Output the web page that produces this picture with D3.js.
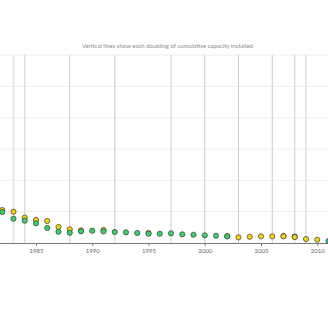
<!DOCTYPE html>
<html>
<head>
<meta charset="utf-8">
<script src="https://cdn.jsdelivr.net/npm/d3@7"></script>
<style>
  body { margin: 0; background: #fff; }
  svg { display: block; font-family: Lato, "Noto Sans", sans-serif; }
</style>
</head>
<body>
<div id="chart"></div>
<script>
// data
var years1 = [1982, 1983, 1984, 1985, 1986, 1987, 1988, 1989, 1991, 1995, 2002, 2003, 2004, 2005, 2006, 2007, 2008, 2009, 2010]
var yellowVals = [26.3, 25.0, 20.2, 18.4, 17.6, 12.8, 10.9, 10.1, 10.4, 8.0, 5.4, 4.5, 5.0, 5.3, 5.3, 5.3, 4.8, 3.2, 2.6]
var years2 = [1982, 1983, 1984, 1985, 1986, 1987, 1988, 1989, 1990, 1991, 1992, 1993, 1994, 1995, 1996, 1997, 1998, 1999, 2000, 2001, 2002]
var greenVals = [24.7, 19.4, 17.8, 15.7, 12.0, 9.0, 8.2, 9.3, 9.8, 9.3, 8.8, 8.5, 8.0, 7.4, 7.4, 7.7, 6.9, 6.6, 6.1, 5.8, 5.3]
var years3 = [2007, 2008]
var redVals = [5.6, 5.1]
var years4 = [2011]
var tealVals = [1.6]
var doublingYears = [1983, 1984, 1988, 1992, 1997, 2000, 2003, 2006, 2008, 2009]
var xTicks = [1985, 1990, 1995, 2000, 2005, 2010]
var yTicks = [25, 50, 75, 100, 125, 150]
var note = "Vertical lines show each doubling of cumulative capacity installed."

var width = 328, height = 320

var svg = d3.select("#chart")
  .append("svg")
  .attr("width", width)
  .attr("height", height)

var x = d3.scaleLinear()
  .domain([1982, 2011])
  .range([2.25, 328.5])

var y = d3.scaleLinear()
  .domain([0, 150])
  .range([243, 55])

// note above plot
svg.append("text")
  .attr("x", 168)
  .attr("y", 48)
  .attr("text-anchor", "middle")
  .style("font-size", "6px")
  .style("fill", "#8a8a8a")
  .text(note)

// horizontal gridlines
svg.append("g")
  .selectAll("line")
  .data(yTicks)
  .enter()
  .append("line")
  .attr("x1", 0)
  .attr("x2", width)
  .attr("y1", d => y(d))
  .attr("y2", d => y(d))
  .style("stroke", "#eeeeee")
  .style("stroke-width", 1)

// doubling lines
svg.append("g")
  .selectAll("line")
  .data(doublingYears)
  .enter()
  .append("line")
  .attr("x1", d => x(d))
  .attr("x2", d => x(d))
  .attr("y1", y(150))
  .attr("y2", y(0))
  .style("stroke", (d, i) => i == 0 ? "#e2e2e2" : "#cccccc")
  .style("stroke-width", (d, i) => i == 0 ? 1.8 : 1)

// x axis
var xAxis = svg.append("g")
  .attr("transform", "translate(0," + y(0) + ")")
  .call(d3.axisBottom(x).tickValues(xTicks).tickFormat(d3.format("d")).tickSize(3).tickPadding(3))
xAxis.select(".domain").attr("stroke", "#777").attr("d", "M0,0.5H" + width)
xAxis.selectAll(".tick line").attr("stroke", "#777")
xAxis.selectAll("text")
  .style("font-size", "6px")
  .style("fill", "#666")
  .style("font-family", "Lato, sans-serif")

function dots(years, vals, color) {
  svg.append("g")
    .selectAll("circle")
    .data(years.map((yr, i) => [yr, vals[i]]))
    .enter()
    .append("circle")
    .attr("cx", d => x(d[0]))
    .attr("cy", d => y(d[1]))
    .attr("r", 2.6)
    .style("fill", color)
    .style("stroke", "#3a3a3a")
    .style("stroke-width", 0.7)
}

dots(years3, redVals, "#c0392b")
dots(years1, yellowVals, "#f2d411")
dots(years2, greenVals, "#3ccf6a")
dots(years4, tealVals, "#1fb5b0")
</script>
</body>
</html>
